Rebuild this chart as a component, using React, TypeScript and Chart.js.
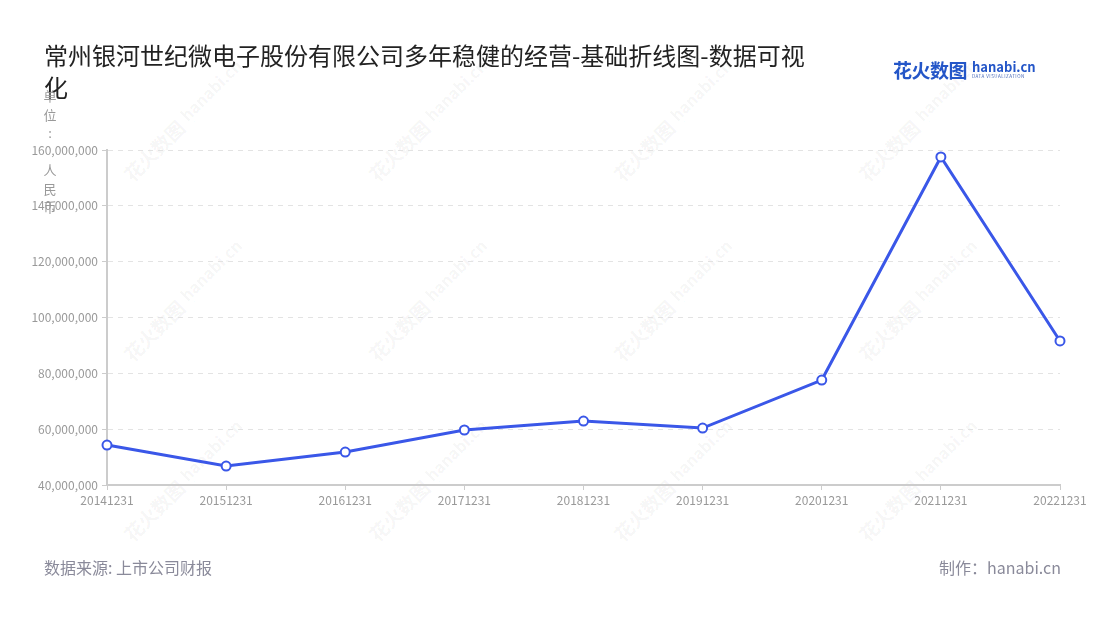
import React, { useEffect, useRef } from "react";
import { Chart, registerables } from "chart.js";

Chart.register(...registerables);

const categories = ["20141231", "20151231", "20161231", "20171231", "20181231", "20191231", "20201231", "20211231", "20221231"];
const revenue = [54300000, 46800000, 51800000, 59700000, 62900000, 60400000, 77600000, 157500000, 91600000];
const yTicks = [40000000, 60000000, 80000000, 100000000, 120000000, 140000000, 160000000];

const titleText = "常州银河世纪微电子股份有限公司多年稳健的经营-基础折线图-数据可视化";
const yAxisTitle = "单位: 人民币";
const sourceText = "数据来源: 上市公司财报";
const makerText = "制作：hanabi.cn";

const FONT = '"Noto Sans CJK SC", "Noto Sans", sans-serif';
const wmCols = [183, 428, 673, 918];
const wmRows = [120, 300, 480];

export default function App() {
  const ref = useRef<HTMLCanvasElement | null>(null);

  useEffect(() => {
    if (!ref.current) return;
    const chart = new Chart(ref.current, {
      type: "line",
      data: {
        labels: categories,
        datasets: [
          {
            data: revenue,
            borderColor: "#3a57e8",
            borderWidth: 3,
            pointBackgroundColor: "#ffffff",
            pointBorderColor: "#3a57e8",
            pointBorderWidth: 2,
            pointRadius: 4.5,
            tension: 0,
          },
        ],
      },
      options: {
        animation: false,
        responsive: false,
        maintainAspectRatio: false,
        layout: { padding: { left: 0, right: 40, top: 150, bottom: 105 } },
        plugins: { legend: { display: false }, tooltip: { enabled: false } },
        scales: {
          x: {
            offset: false,
            afterFit: (s: any) => {
              s.height = 30;
            },
            grid: { drawOnChartArea: false, drawTicks: true, tickLength: 5, color: "#cccccc" },
            border: { display: true, color: "#cccccc", width: 2 },
            ticks: { color: "#999999", font: { size: 12, family: FONT }, padding: 3, maxRotation: 0, autoSkip: false },
          },
          y: {
            min: 40000000,
            max: 160000000,
            afterFit: (s: any) => {
              s.width = 107;
            },
            afterBuildTicks: (s: any) => {
              s.ticks = yTicks.map((v) => ({ value: v }));
            },
            grid: { color: "#e3e3e3", tickColor: "#cccccc", tickLength: 5, lineWidth: 1 },
            border: { display: true, color: "#cccccc", width: 2, dash: [5, 5] },
            ticks: {
              color: "#999999",
              font: { size: 12, family: FONT },
              padding: 4,
              callback: (v: any) => Number(v).toLocaleString("en-US"),
            },
          },
        },
      },
    });
    return () => chart.destroy();
  }, []);

  return (
    <div style={{ position: "absolute", left: 0, top: 0, width: 1100, height: 620, background: "#fff", overflow: "hidden", fontFamily: FONT }}>
      {wmRows.map((r) =>
        wmCols.map((c) => (
          <div
            key={`${r}-${c}`}
            style={{
              position: "absolute",
              left: c - 90,
              top: r - 14,
              width: 180,
              height: 28,
              transform: "rotate(-45deg)",
              color: "rgba(0,0,0,0.05)",
              whiteSpace: "nowrap",
              display: "flex",
              alignItems: "center",
              justifyContent: "center",
              gap: 6,
            }}
          >
            <span style={{ fontSize: 19, fontWeight: 700 }}>花火数图</span>
            <span style={{ display: "flex", flexDirection: "column", lineHeight: 1 }}>
              <span style={{ fontSize: 16, fontWeight: 700 }}>hanabi.cn</span>
              <span style={{ fontSize: 4, letterSpacing: 0.5 }}>DATA VISUALIZATION</span>
            </span>
          </div>
        ))
      )}
      <canvas ref={ref} width={1100} height={620} style={{ position: "absolute", left: 0, top: 0, width: 1100, height: 620 }} />
      <div style={{ position: "absolute", left: 44, top: 39, width: 775, fontSize: 24, lineHeight: "32px", color: "#222222" }}>{titleText}</div>
      <div style={{ position: "absolute", left: 40, top: 87, width: 20, color: "#999999", fontSize: 13, lineHeight: "18.5px", textAlign: "center" }}>
        {Array.from(yAxisTitle).map((ch, i) => (
          <div key={i} style={{ height: 18.5 }}>{ch === " " ? "\u00a0" : ch}</div>
        ))}
      </div>
      <div style={{ position: "absolute", left: 893, top: 60, display: "flex", alignItems: "center", gap: 5, color: "#2456c8" }}>
        <span style={{ fontSize: 19, fontWeight: 700, lineHeight: 1, letterSpacing: -0.5 }}>花火数图</span>
        <span style={{ display: "flex", flexDirection: "column", lineHeight: 1 }}>
          <span style={{ fontSize: 13, fontWeight: 700, color: "#2456c8" }}>hanabi.cn</span>
          <span style={{ fontSize: 4.5, letterSpacing: 0.5, color: "#4a6ab8", marginTop: 1 }}>DATA VISUALIZATION</span>
        </span>
      </div>
      <div style={{ position: "absolute", left: 44, top: 555, fontSize: 16, color: "#8a8a9a" }}>{sourceText}</div>
      <div style={{ position: "absolute", right: 39, top: 555, fontSize: 16, color: "#8a8a9a" }}>{makerText}</div>
    </div>
  );
}
